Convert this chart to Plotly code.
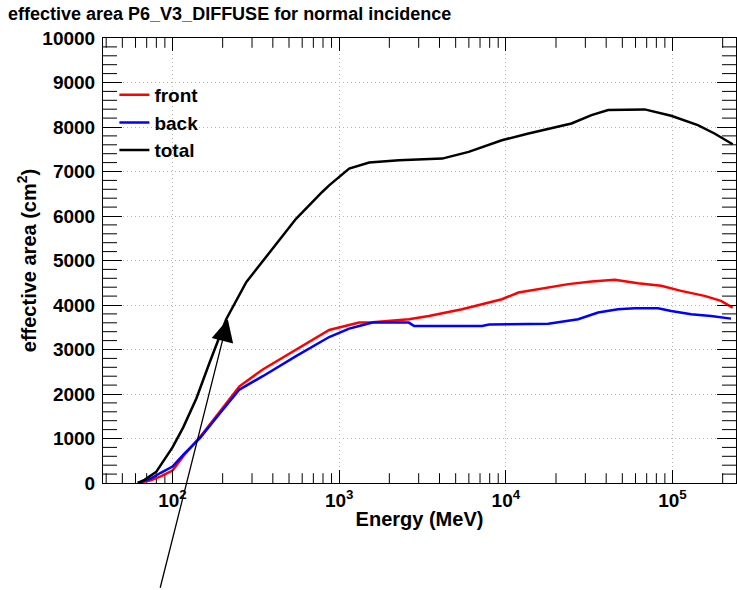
import plotly.graph_objects as go

# ---- data ----
total_E = [62, 68, 80, 100, 116, 139, 167, 210, 277, 382, 551, 794, 871, 1148, 1514,
           2286, 4150, 5984, 9462, 13680, 20650, 24770, 32660, 41110, 68080, 98170,
           141900, 178600, 229600]
total_A = [0, 70, 255, 800, 1250, 1900, 2708, 3680, 4514, 5191, 5936, 6545, 6688, 7064, 7200,
           7252, 7290, 7441, 7703, 7854, 8005, 8080, 8268, 8381, 8396, 8254,
           8042, 7854, 7613]

front_E = [62, 74, 85, 100, 117, 146, 192, 252, 348, 551, 871, 1318, 1581, 2618, 3451,
           5458, 7194, 9462, 11910, 15700, 20650, 23710, 32660, 45080, 62090, 85510,
           112700, 155600, 195400, 229600]
front_A = [0, 60, 150, 280, 620, 1030, 1600, 2173, 2550, 3002, 3440, 3604, 3610, 3679, 3754,
           3905, 4018, 4130, 4281, 4356, 4446, 4469, 4530, 4566, 4491, 4431,
           4318, 4205, 4092, 3943]

back_E = [62, 74, 85, 100, 117, 146, 192, 252, 348, 551, 871, 1148, 1318, 1581, 2618,
          2818, 7194, 7943, 17990, 20650, 27160, 35810, 47100, 59430, 81850, 98170,
          129400, 170200, 224400]
back_A = [0, 100, 230, 368, 650, 1008, 1560, 2100, 2400, 2851, 3280, 3469, 3528, 3604, 3604,
          3528, 3528, 3560, 3580, 3618, 3679, 3830, 3905, 3927, 3927, 3866,
          3792, 3754, 3694]

series_names = ["front", "back", "total"]
series_colors = ["#ff0000", "#0000ff", "#000000"]

x_major = [100, 1000, 10000, 100000]
x_major_text = ["10<sup>2</sup>", "10<sup>3</sup>", "10<sup>4</sup>", "10<sup>5</sup>"]
x_minor = [m * 10 ** d for d in range(1, 6) for m in range(2, 10) if 38 <= m * 10 ** d <= 240000]
y_minor = [v for v in range(0, 10001, 200) if v % 1000 != 0]

X_RANGE = [1.583, 5.381]
Y_RANGE = [0, 10000]

FONT = "Liberation Sans, Arial, sans-serif"

fig = go.Figure()

# minor tick marks along the frame: line markers centred on the frame edges,
# clipped to the plot area so that only the inner half is visible
x_lo, x_hi = 10 ** X_RANGE[0], 10 ** X_RANGE[1]
tick_marker_y = dict(symbol="line-ew", size=20, color="black", line=dict(color="black", width=1))
tick_marker_x = dict(symbol="line-ns", size=14, color="black", line=dict(color="black", width=1))
for xv in (x_lo, x_hi):
    fig.add_trace(go.Scatter(x=[xv] * len(y_minor), y=y_minor, mode="markers",
                             marker=tick_marker_y, showlegend=False, hoverinfo="skip",
                             cliponaxis=True))
for yv in Y_RANGE:
    fig.add_trace(go.Scatter(x=x_minor, y=[yv] * len(x_minor), mode="markers",
                             marker=tick_marker_x, showlegend=False, hoverinfo="skip",
                             cliponaxis=True))

for name, color, xs, ys in zip(series_names, series_colors,
                               [front_E, back_E, total_E], [front_A, back_A, total_A]):
    fig.add_trace(go.Scatter(x=xs, y=ys, mode="lines", name=name,
                             line=dict(color=color, width=2.5)))

fig.update_layout(
    width=737, height=590,
    margin=dict(l=103, r=1, t=38, b=107),
    paper_bgcolor="white", plot_bgcolor="white",
    title=dict(text="effective area P6_V3_DIFFUSE for normal incidence",
               x=8 / 737, xanchor="left", y=1 - 14 / 590, yanchor="middle",
               font=dict(family=FONT, size=18, color="black", weight="bold")),
    legend=dict(x=0.018, y=0.915, xanchor="left", yanchor="top",
                bgcolor="rgba(0,0,0,0)", borderwidth=0,
                font=dict(family=FONT, size=19, color="black", weight="bold"),
                tracegroupgap=0),
    showlegend=True,
    xaxis=dict(
        type="log", range=X_RANGE,
        tickmode="array", tickvals=x_major, ticktext=x_major_text,
        ticks="inside", ticklen=13, tickwidth=1, tickcolor="black",
        showline=True, linecolor="black", linewidth=1, mirror="ticks",
        showgrid=True, gridcolor="#b4b4b4", griddash="1px,3px", gridwidth=1,
        zeroline=False,
        tickfont=dict(family=FONT, size=19, color="black", weight="bold"),
        title=dict(text="Energy (MeV)", standoff=2,
                   font=dict(family=FONT, size=20, color="black", weight="bold")),
    ),
    yaxis=dict(
        range=Y_RANGE, tickmode="linear", dtick=1000, tick0=0, tickformat="d",
        ticks="inside", ticklen=19, tickwidth=1, tickcolor="black",
        showline=True, linecolor="black", linewidth=1, mirror="ticks",
        showgrid=True, gridcolor="#b4b4b4", griddash="1px,3px", gridwidth=1,
        zeroline=False,
        tickfont=dict(family=FONT, size=19, color="black", weight="bold"),
        ticklabelstandoff=3,
        title=dict(text="effective area (cm<sup>2</sup>)", standoff=0,
                   font=dict(family=FONT, size=20, color="black", weight="bold")),
    ),
)

# arrow annotation
fig.add_annotation(x=2.332, y=3679, xref="x", yref="y", text="",
                   showarrow=True, ax=-68, ay=270, axref="pixel", ayref="pixel",
                   arrowhead=2, arrowsize=3.4, arrowwidth=1.3, arrowcolor="black")

fig.write_html("out.html")
